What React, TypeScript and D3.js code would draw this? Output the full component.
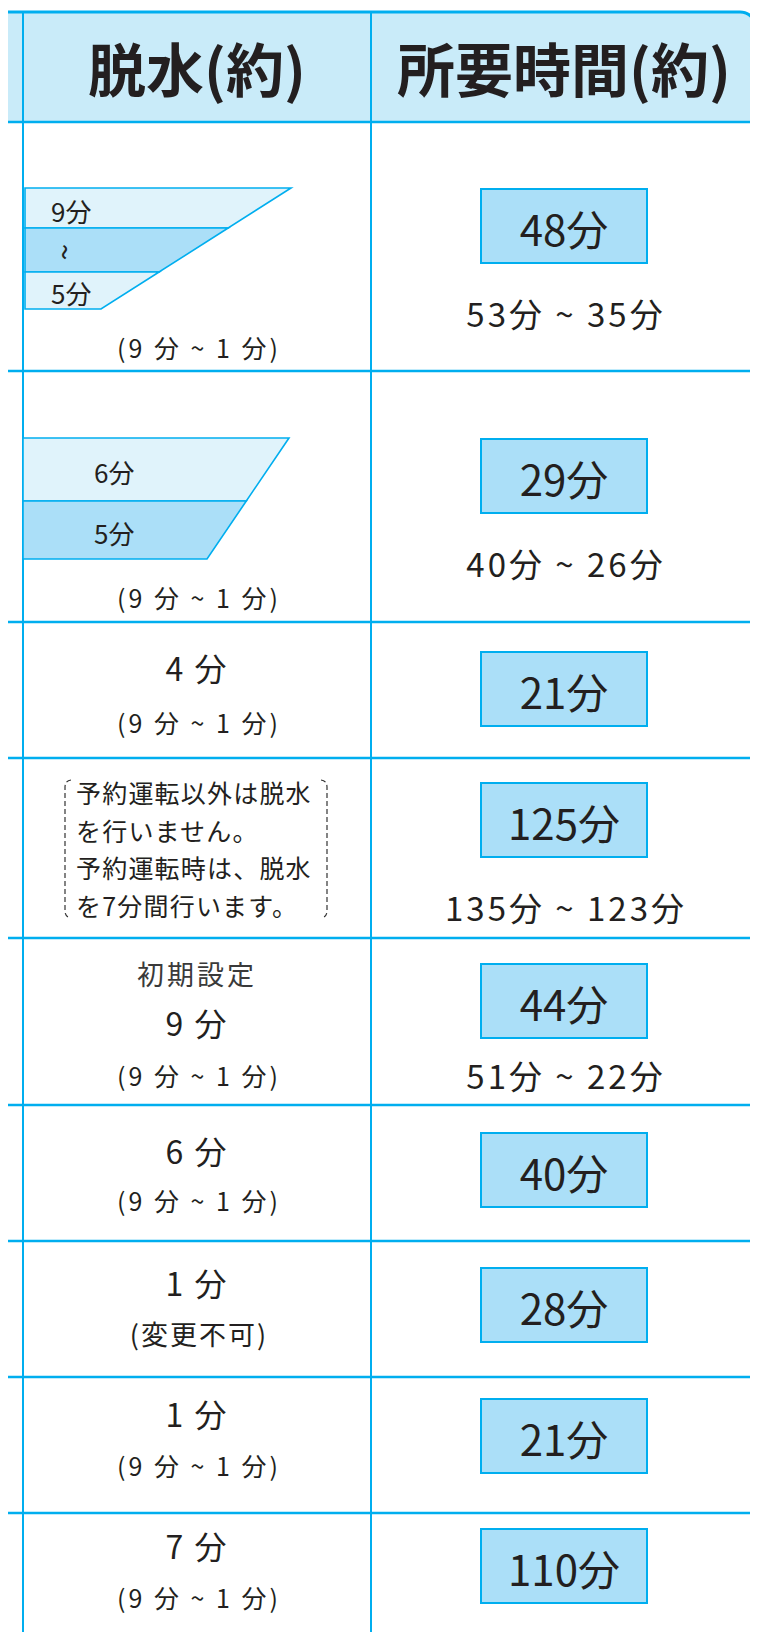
import * as d3 from 'd3';
import { useEffect, useRef } from 'react';

// 見出し
const headers = ["脱水(約)", "所要時間(約)"];
// 所要時間(約)
const timeMain = ["48分", "29分", "21分", "125分", "44分", "40分", "28分", "21分", "110分"];
const timeRange = ["53分 ~ 35分", "40分 ~ 26分", "", "135分 ~ 123分", "51分 ~ 22分", "", "", "", ""];
// 脱水(約)
const spinTop = ["", "", "", "", "初期設定", "", "", "", ""];
const spinMain = ["", "", "4 分", "", "9 分", "6 分", "1 分", "1 分", "7 分"];
const spinSub = ["(9 分 ~ 1 分)", "(9 分 ~ 1 分)", "(9 分 ~ 1 分)", "", "(9 分 ~ 1 分)", "(9 分 ~ 1 分)", "(変更不可)", "(9 分 ~ 1 分)", "(9 分 ~ 1 分)"];
const reserveNote = ["予約運転以外は脱水", "を行いません。", "予約運転時は、脱水", "を7分間行います。"];
const stepsA = ["9分", "~", "5分"];
const stepsB = ["6分", "5分"];

// layout
const W = 758, H = 1640;
const rowTops = [122, 371, 622, 758, 938, 1105, 1241, 1377, 1513];
const boxTop = [189, 439, 652, 783, 964, 1133, 1268, 1399, 1529];
const rangeY = [313, 563, 0, 907, 1075, 0, 0, 0, 0];
const topY = [0, 0, 0, 0, 973, 0, 0, 0, 0];
const mainY = [0, 0, 667, 0, 1022, 1150, 1282, 1413, 1545];
const subY = [347, 597, 722, 0, 1075, 1200, 1333, 1465, 1597];

const BLUE = "#00aeef";
const HEAD = "#c9ebf9";
const BOX = "#abdff8";
const PALE = "#e0f3fb";
const INK = "#231f20";
const FONT = "'Noto Sans CJK JP', 'Noto Sans', sans-serif";

const App = () => {
    const ref = useRef<SVGSVGElement>(null);
    useEffect(() => {
        draw();
    }, []);
    const draw = () => {
        const svg = d3.select(ref.current);
        svg.selectAll("*").remove();
        const c2 = 197, c3 = 564;
        const rows = d3.range(timeMain.length);

        // header band
        svg.append("path")
            .attr("d", `M0,12 H740 A16,16 0 0 1 756,28 V122 H0 Z`)
            .attr("fill", HEAD);
        svg.append("path")
            .attr("d", `M0,12 H740 A16,16 0 0 1 756,28 V122`)
            .attr("fill", "none").attr("stroke", BLUE).attr("stroke-width", 3);
        // text above, cut by the page edge
        svg.append("text").attr("x", 203).attr("y", -4)
            .attr("text-anchor", "middle").attr("font-family", FONT)
            .attr("font-size", 30).attr("fill", INK).text("(約)");

        svg.selectAll(".head").data(headers).enter().append("text")
            .attr("x", (d, i) => i === 0 ? c2 : c3)
            .attr("y", 67)
            .attr("text-anchor", "middle")
            .attr("dominant-baseline", "central")
            .attr("font-family", FONT)
            .attr("font-weight", 700)
            .attr("font-size", 58)
            .attr("fill", INK)
            .text(d => d);

        // grid
        svg.selectAll(".hline").data(rowTops).enter().append("line")
            .attr("x1", 0).attr("x2", W)
            .attr("y1", d => d).attr("y2", d => d)
            .attr("stroke", BLUE).attr("stroke-width", 2.5);
        svg.selectAll(".vline").data([23, 371]).enter().append("line")
            .attr("x1", d => d).attr("x2", d => d)
            .attr("y1", 12).attr("y2", H)
            .attr("stroke", BLUE).attr("stroke-width", 2);

        // time boxes
        const g3 = svg.append("g");
        g3.selectAll("rect").data(rows).enter().append("rect")
            .attr("x", 481).attr("y", i => boxTop[i])
            .attr("width", 166).attr("height", 74)
            .attr("fill", BOX).attr("stroke", BLUE).attr("stroke-width", 2);
        g3.selectAll(".tm").data(rows).enter().append("text")
            .attr("x", c3).attr("y", i => boxTop[i] + 38)
            .attr("text-anchor", "middle").attr("dominant-baseline", "central")
            .attr("font-family", FONT).attr("font-size", 42).attr("fill", INK)
            .text(i => timeMain[i]);
        g3.selectAll(".tr").data(rows.filter(i => timeRange[i])).enter().append("text")
            .attr("x", c3 + 2).attr("y", i => rangeY[i])
            .attr("text-anchor", "middle").attr("dominant-baseline", "central")
            .attr("font-family", FONT).attr("font-size", 33).attr("fill", INK)
            .attr("letter-spacing", 3)
            .text(i => timeRange[i]);

        // spin column text
        const g2 = svg.append("g").attr("fill", INK).attr("font-family", FONT).attr("text-anchor", "middle");
        g2.selectAll(".st").data(rows.filter(i => spinTop[i])).enter().append("text")
            .attr("x", c2).attr("y", i => topY[i]).attr("dominant-baseline", "central")
            .attr("font-size", 27).attr("letter-spacing", 3).attr("fill", "#3a3a3a")
            .text(i => spinTop[i]);
        g2.selectAll(".sm").data(rows.filter(i => spinMain[i])).enter().append("text")
            .attr("x", c2).attr("y", i => mainY[i]).attr("dominant-baseline", "central")
            .attr("font-size", 32).attr("letter-spacing", 2)
            .text(i => spinMain[i]);
        g2.selectAll(".ss").data(rows.filter(i => spinSub[i])).enter().append("text")
            .attr("x", c2 + 2).attr("y", i => subY[i]).attr("dominant-baseline", "central")
            .attr("font-size", i => spinSub[i].length < 7 ? 27 : 25)
            .attr("letter-spacing", i => spinSub[i].length < 7 ? 2 : 3)
            .text(i => spinSub[i]);

        // stepped spin diagram, row 1
        const yA = [188, 228, 272, 309];
        const edgeA = d3.scaleLinear().domain([188, 309]).range([291, 101]);
        const gA = svg.append("g");
        gA.selectAll("path").data(stepsA).enter().append("path")
            .attr("d", (d, i) => `M25,${yA[i]} H${edgeA(yA[i])} L${edgeA(yA[i + 1])},${yA[i + 1]} H25 Z`)
            .attr("fill", (d, i) => i === 1 ? BOX : PALE)
            .attr("stroke", BLUE).attr("stroke-width", 1.6);
        gA.selectAll("text").data(stepsA).enter().append("text")
            .attr("x", (d, i) => i === 1 ? 67 : 51)
            .attr("y", (d, i) => (yA[i] + yA[i + 1]) / 2 + 2)
            .attr("text-anchor", (d, i) => i === 1 ? "middle" : "start")
            .attr("dominant-baseline", "central")
            .attr("transform", (d, i) => i === 1 ? `rotate(90,67,${(yA[i] + yA[i + 1]) / 2 + 2})` : null)
            .attr("font-family", FONT).attr("font-size", (d, i) => i === 1 ? 30 : 26)
            .attr("fill", INK)
            .text(d => d);

        // stepped spin diagram, row 2
        const yB = [438, 501, 559];
        const edgeB = d3.scaleLinear().domain([438, 559]).range([289, 207]);
        const gB = svg.append("g");
        gB.selectAll("path").data(stepsB).enter().append("path")
            .attr("d", (d, i) => `M23,${yB[i]} H${edgeB(yB[i])} L${edgeB(yB[i + 1])},${yB[i + 1]} H23 Z`)
            .attr("fill", (d, i) => i === 1 ? BOX : PALE)
            .attr("stroke", BLUE).attr("stroke-width", 1.6);
        gB.selectAll("text").data(stepsB).enter().append("text")
            .attr("x", 94)
            .attr("y", (d, i) => (yB[i] + yB[i + 1]) / 2 + 2)
            .attr("dominant-baseline", "central")
            .attr("font-family", FONT).attr("font-size", 26).attr("fill", INK)
            .text(d => d);

        // reservation note with dashed brackets
        const gN = svg.append("g");
        gN.append("path")
            .attr("d", "M71,780 Q65,781 65,787 V911 Q65,917 71,918")
            .attr("fill", "none").attr("stroke", "#333").attr("stroke-width", 1.2)
            .attr("stroke-dasharray", "5,3");
        gN.append("path")
            .attr("d", "M321,780 Q327,781 327,787 V911 Q327,917 321,918")
            .attr("fill", "none").attr("stroke", "#333").attr("stroke-width", 1.2)
            .attr("stroke-dasharray", "5,3");
        gN.selectAll("text").data(reserveNote).enter().append("text")
            .attr("x", 76).attr("y", (d, i) => 792 + i * 37.7)
            .attr("dominant-baseline", "central")
            .attr("font-family", FONT).attr("font-size", 25).attr("letter-spacing", 1.2)
            .attr("fill", INK)
            .text(d => d);
    };
    return (
        <div style={{ margin: -8, background: "#fff" }}>
            <svg ref={ref} width={W} height={H} style={{ display: "block" }}></svg>
        </div>
    );
};
export default App;
